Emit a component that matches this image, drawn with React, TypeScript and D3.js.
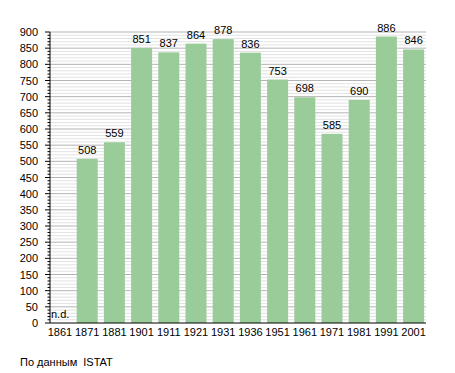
import React from 'react';
import * as d3 from 'd3';

const years = ['1861', '1871', '1881', '1901', '1911', '1921', '1931', '1936', '1951', '1961', '1971', '1981', '1991', '2001'];
const population: (number | null)[] = [null, 508, 559, 851, 837, 864, 878, 836, 753, 698, 585, 690, 886, 846];
const majorTicks = d3.range(0, 901, 50);
const minorTicks = d3.range(0, 901, 10);

const W = 455;
const H = 373;
const left = 50;
const right = 426;
const top = 32;
const bottom = 323;
const font = 'Liberation Sans, Arial, sans-serif';

const App = () => {
  const x = d3.scaleBand<string>().domain(years).range([49.5, 49.5 + 27.2 * years.length]).paddingInner(0);
  const barW = x.bandwidth() * 0.772;
  const y = d3.scaleLinear().domain([0, 900]).range([bottom, top]);

  return (
    <svg width={W} height={H} style={{ position: 'absolute', left: 0, top: 0, background: '#fff' }} fontFamily={font}>
      {/* minor gridlines */}
      {minorTicks.filter((t) => t % 50 !== 0).map((t) => (
        <line key={'m' + t} x1={left} x2={right} y1={y(t)} y2={y(t)} stroke="#e2e2e2" strokeWidth={1} />
      ))}
      {majorTicks.filter((t) => t > 0).map((t) => (
        <line key={'M' + t} x1={left} x2={right} y1={y(t)} y2={y(t)} stroke="#b4b4b4" strokeWidth={1} />
      ))}

      {/* bars */}
      {years.map((yr, i) => {
        const v = population[i];
        const bx = x(yr)!;
        if (v == null) {
          return (
            <text key={yr} x={bx + 1.5} y={318} fontSize={11} fill="#000">n.d.</text>
          );
        }
        return (
          <g key={yr}>
            <rect x={bx} y={y(v)} width={barW} height={bottom - y(v)} fill="#99cc99" />
            <text x={bx + barW / 2} y={y(v) - 5} fontSize={11} textAnchor="middle" fill="#000">{v}</text>
          </g>
        );
      })}

      {/* y axis */}
      <line x1={left} x2={left} y1={top} y2={bottom} stroke="#000" strokeWidth={1} />
      {minorTicks.map((t) => (
        <line key={'yt' + t} x1={t % 50 === 0 ? 45 : 47.5} x2={left} y1={y(t)} y2={y(t)} stroke="#000" strokeWidth={1} />
      ))}
      {majorTicks.map((t) => (
        <text key={'yl' + t} x={38} y={y(t) + 4} fontSize={11} textAnchor="end" fill="#000">{t}</text>
      ))}

      {/* x axis */}
      <line x1={left} x2={right} y1={bottom} y2={bottom} stroke="#000" strokeWidth={1} />
      {years.map((yr) => (
        <text key={'xl' + yr} x={x(yr)! + barW / 2} y={336} fontSize={11} textAnchor="middle" fill="#000">{yr}</text>
      ))}

      <text x={20} y={366} fontSize={11} fill="#000">По данным<tspan dx={6}>ISTAT</tspan></text>
    </svg>
  );
};

export default App;
